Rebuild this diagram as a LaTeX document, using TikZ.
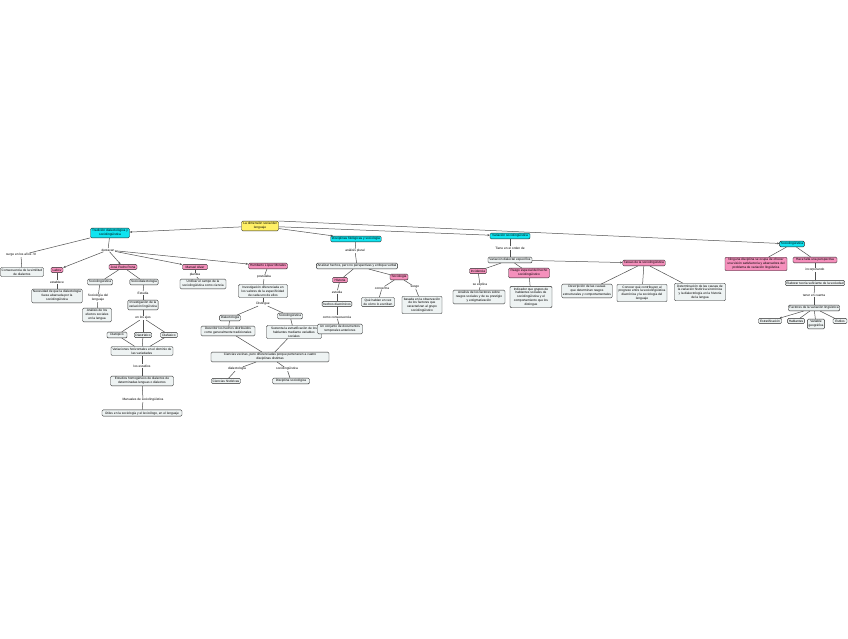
\documentclass[tikz,border=0pt]{standalone}
\usepackage{fontspec}
\setmainfont{Liberation Sans}
\usetikzlibrary{arrows.meta}
\definecolor{lc}{HTML}{505050}
\definecolor{yel}{HTML}{FFF066}
\definecolor{cya}{HTML}{10E4F0}
\definecolor{pnk}{HTML}{F590BC}
\definecolor{gry}{HTML}{EEF3F3}
\begin{document}
\begin{tikzpicture}[x=1pt,y=-1pt,
  base/.style={draw=black!85, line width=0.4pt, rounded corners=1.2pt, inner xsep=1.2pt, inner ysep=1.4pt, align=center, font=\fontsize{3.2pt}{3.9pt}\selectfont},
  rootbox/.style={base, fill=yel},
  cybox/.style={base, fill=cya},
  pkbox/.style={base, fill=pnk},
  gbox/.style={base, fill=gry},
  lab/.style={inner sep=0.4pt, fill=white, align=center, font=\fontsize{3.2pt}{3.9pt}\selectfont},
  conn/.style={draw=lc, line width=0.5pt},
  arr/.style={conn, -{Stealth[length=2.5pt,width=2pt]}},
]
\useasboundingbox (0,0) rectangle (848,638);
\fill[white] (0,0) rectangle (848,638);

% main
\node[rootbox,minimum width=37pt] (root) at (260,226) {La dimensión social del\\lenguaje};
\node[cybox,minimum width=39pt] (tA) at (110,233) {Tradición dialectológica y\\sociolingüística};
\node[cybox,minimum width=48pt] (tB) at (356,239) {Disciplinas filológicas y sociología};
\node[cybox,minimum width=40pt] (tC) at (510,236) {Variación sociolingüística};
\node[cybox,minimum width=21pt] (tD) at (792,244) {Sociolingüística};

% left branch
\node[lab] (lsurge) at (21,255) {surge en los años 70};
\node[gbox,minimum width=43pt] (bcons) at (22,272) {Consecuencia de la similitud\\de dialectos};
\node[lab] (ldest) at (108,250) {destacan};
\node[pkbox,minimum width=12pt] (pLabov) at (57,270) {Labov};
\node[pkbox,minimum width=28pt] (pRona) at (123,267) {José Pedro Rona};
\node[pkbox,minimum width=25pt] (pAlvar) at (195,267) {Manuel Alvar};
\node[pkbox,minimum width=39pt] (pHumb) at (268,266) {Humberto López Morales};
\node[lab] (lest) at (57,282) {establece};
\node[gbox,minimum width=50pt] (bnec) at (57,296) {Necesidad de que la dialectología\\fuese abarcada por la\\sociolingüística};
\node[gbox,minimum width=25pt] (bsl) at (100,282) {Sociolingüística};
\node[gbox,minimum width=24pt] (bsd) at (144,282) {Sociodialectología};
\node[lab] (lsocl) at (98,298) {Sociología del\\lenguaje};
\node[gbox,minimum width=29pt] (bafe) at (97,315) {Análisis de los\\efectos sociales\\en la lengua};
\node[lab] (lestu) at (143,293) {Estudia};
\node[gbox,minimum width=30pt] (binv) at (143,305) {Investigación de la\\variación lingüística};
\node[lab] (lejes) at (143,318) {en los ejes};
\node[gbox,minimum width=20pt] (bdtop) at (117,335) {Diatópico};
\node[gbox,minimum width=15pt] (bdstr) at (143,335) {Diastrático};
\node[gbox,minimum width=17pt] (bdfas) at (169,335) {Diafásico};
\node[gbox,minimum width=62pt] (bvar) at (142,351) {Variaciones horizontales en el dominio de\\las variedades};
\node[lab] (lestd) at (142,366) {los estudios};
\node[gbox,minimum width=63pt] (bhom) at (142,381) {Estudios homogéneos de dialectos de\\determinadas lenguas o dialectos};
\node[lab] (lman) at (143,400) {Manuales de sociolingüística};
\node[gbox,minimum width=80pt] (butil) at (142,413) {Útiles en la sociología y el lexicólogo, en el lenguaje};

\node[lab] (lplan) at (195,275) {plantea};
\node[gbox,minimum width=46pt] (buni) at (203,284) {Unificar el campo de la\\sociolingüística como ciencia};

\node[lab] (lpost) at (264,277) {postulaba};
\node[gbox,minimum width=49pt] (binvd) at (263,291) {Investigación diferenciada en\\los valores de la especificidad\\de cada uno de ellos};
\node[lab] (ldist) at (263,304) {Distingue};
\node[gbox,minimum width=20pt] (bdial) at (230,318) {Dialectología};
\node[gbox,minimum width=25pt] (bsl2) at (290,316) {Sociolingüística};
\node[gbox,minimum width=54pt] (bdesc) at (228,331) {Describir los hechos distribuidos\\como generalmente tradicionales};
\node[gbox,minimum width=55pt] (bsust) at (294,332) {Sustenta la estratificación de los\\hablantes mediante variables\\sociales};
\node[gbox,minimum width=118pt] (bcien) at (270,357) {Ciencias vecinas, pero diferenciadas porque pertenecen a cuatro\\disciplinas distintas};
\node[lab] (ldia) at (237,369) {dialectología};
\node[lab] (lsoc) at (287,369) {sociolingüística};
\node[gbox,minimum width=29pt] (bhist) at (226,381) {Ciencias históricas};
\node[gbox,minimum width=37pt] (bdisc) at (291,381) {Disciplina sociológica};

% disciplinas
\node[lab] (lanal) at (355,251) {análisis plural};
\node[gbox,minimum width=80pt] (bana) at (357,266) {Analizar hechos, pero no perspectivas y enfoque verbal};
\node[pkbox,minimum width=15pt] (pHist) at (340,280) {Historia};
\node[pkbox,minimum width=18pt] (pSoc) at (399,277) {Sociología};
\node[lab] (lestd2) at (337,292) {estudia};
\node[gbox,minimum width=28pt] (bdiac) at (337,304) {hechos diacrónicos};
\node[lab] (lcons) at (337,317) {como consecuencia};
\node[gbox,minimum width=45pt] (bconj) at (340,329) {Un conjunto de documentos\\temporales anteriores};
\node[lab] (lconc) at (382,288) {concentra};
\node[lab] (lsesg) at (415,287) {sesgo};
\node[gbox,minimum width=33pt] (bhabl) at (378,302) {Qué hablan en vez\\de cómo lo escriben};
\node[gbox,minimum width=40pt] (bobs) at (422,305) {basada en la observación\\de los factores que\\caracterizan al grupo\\sociolingüístico};

% variacion
\node[lab] (ltien) at (510,248) {Tiene en el orden de};
\node[gbox,minimum width=44pt] (bvesp) at (510,260) {Variación dialectal específica};
\node[pkbox,minimum width=17pt] (pInc) at (478,271) {Incidencia};
\node[pkbox,minimum width=41pt] (pRas) at (529,273) {Rasgo especial del hecho\\sociolingüístico};
\node[lab] (lexp) at (480,285) {se explica};
\node[gbox,minimum width=52pt] (bfac) at (479,297) {Análisis de los factores sobre\\rasgos sociales y de su prestigio\\y estigmatización};
\node[gbox,minimum width=42pt] (bind) at (531,297) {Indicador que grupos de\\hablantes sociales de\\sociolingüística y el\\comportamiento que los\\distingue};
\node[pkbox,minimum width=42pt] (pTar) at (644,263) {Tareas de la sociolingüística};
\node[gbox,minimum width=50pt] (bt1) at (587,291) {Descripción de las causas\\que determinan rasgos\\estructurales y comportamentales};
\node[gbox,minimum width=50pt] (bt2) at (642,293) {Conocer qué contribuyen al\\progreso entre la sociolingüística\\diacrónica y la sociología del\\lenguaje};
\node[gbox,minimum width=51pt] (bt3) at (700,292) {Determinación de las causas de\\la variación histórica sincrónica\\y la dialectología en la historia\\de la lengua};

% sociolinguistica
\node[pkbox,minimum width=62pt] (pNing) at (756,264) {Ninguna disciplina se ocupa de ofrecer\\una visión satisfactoria y abarcadora del\\problema de variación lingüística};
\node[pkbox,minimum width=44pt] (pHace) at (815,260) {Hace falta una perspectiva};
\node[lab] (linc) at (815,270) {incorporando};
\node[gbox,minimum width=59pt] (belab) at (815,283) {Elaborar teoría suficiente de la sociedad};
\node[lab] (lten) at (814,295) {tener en cuenta};
\node[gbox,minimum width=51pt] (bfact) at (814,308) {Factores de la variación lingüística};
\node[gbox,minimum width=23pt] (bestr) at (770,321) {Estratificación};
\node[gbox,minimum width=15pt] (bhab) at (796,321) {Hablantes};
\node[gbox,minimum width=15pt] (bgeo) at (816,324) {Variable\\geográfica};
\node[gbox,minimum width=14pt] (bsty) at (840,321) {Estilos};

% connectors
\draw[arr] (root) -- (tA);
\draw[arr] (root) -- (tB);
\draw[arr] (root) -- (tC);
\draw[arr] (root.15) -- (tD);

\draw[conn] (tA) -- (lsurge);
\draw[conn] (lsurge) -- (bcons);
\draw[conn] (tA) -- (ldest);
\draw[arr] (ldest) -- (pLabov);
\draw[arr] (ldest) -- (pRona);
\draw[arr] (ldest) -- (pAlvar);
\draw[arr] (ldest) -- (pHumb);
\draw[conn] (pLabov) -- (lest);
\draw[conn] (lest) -- (bnec);
\draw[conn] (pRona) -- (bsl);
\draw[conn] (pRona) -- (bsd);
\draw[conn] (bsl) -- (lsocl);
\draw[conn] (lsocl) -- (bafe);
\draw[conn] (bsd) -- (lestu);
\draw[conn] (lestu) -- (binv);
\draw[conn] (binv) -- (lejes);
\draw[conn] (lejes) -- (bdtop);
\draw[conn] (lejes) -- (bdstr);
\draw[conn] (lejes) -- (bdfas);
\draw[conn] (bdtop) -- (bvar);
\draw[conn] (bdstr) -- (bvar);
\draw[conn] (bdfas) -- (bvar);
\draw[conn] (bvar) -- (lestd);
\draw[conn] (lestd) -- (bhom);
\draw[conn] (bhom) -- (lman);
\draw[conn] (lman) -- (butil);

\draw[conn] (pAlvar) -- (lplan);
\draw[conn] (lplan) -- (buni);

\draw[conn] (pHumb) -- (lpost);
\draw[conn] (lpost) -- (binvd);
\draw[conn] (binvd) -- (ldist);
\draw[conn] (ldist) -- (bdial);
\draw[conn] (ldist) -- (bsl2);
\draw[conn] (bdial) -- (bdesc);
\draw[conn] (bsl2) -- (bsust);
\draw[conn] (bdesc) -- (bcien);
\draw[conn] (bsust) -- (bcien);
\draw[conn] (bcien) -- (ldia);
\draw[conn] (ldia) -- (bhist);
\draw[conn] (bcien) -- (lsoc);
\draw[conn] (lsoc) -- (bdisc);

\draw[conn] (tB) -- (lanal);
\draw[conn] (lanal) -- (bana);
\draw[conn] (bana) -- (pHist);
\draw[conn] (bana) -- (pSoc);
\draw[conn] (pHist) -- (lestd2);
\draw[conn] (lestd2) -- (bdiac);
\draw[conn] (bdiac) -- (lcons);
\draw[conn] (lcons) -- (bconj);
\draw[conn] (pSoc) -- (lconc);
\draw[conn] (lconc) -- (bhabl);
\draw[conn] (pSoc) -- (lsesg);
\draw[conn] (lsesg) -- (bobs);

\draw[conn] (tC) -- (ltien);
\draw[conn] (ltien) -- (bvesp);
\draw[conn] (bvesp) -- (pInc);
\draw[conn] (bvesp) -- (pRas);
\draw[arr] (bvesp) -- (pTar);
\draw[conn] (pInc) -- (lexp);
\draw[conn] (lexp) -- (bfac);
\draw[conn] (pRas) -- (bind);
\draw[conn] (pTar) -- (bt1);
\draw[conn] (pTar) -- (bt2);
\draw[conn] (pTar) -- (bt3);

\draw[conn] (tD) -- (pNing);
\draw[conn] (tD) -- (pHace);
\draw[conn] (pHace) -- (linc);
\draw[conn] (linc) -- (belab);
\draw[conn] (belab) -- (lten);
\draw[conn] (lten) -- (bfact);
\draw[arr] (bfact) -- (bestr);
\draw[conn] (bfact) -- (bhab);
\draw[conn] (bfact) -- (bgeo);
\draw[conn] (bfact) -- (bsty);
\end{tikzpicture}
\end{document}
